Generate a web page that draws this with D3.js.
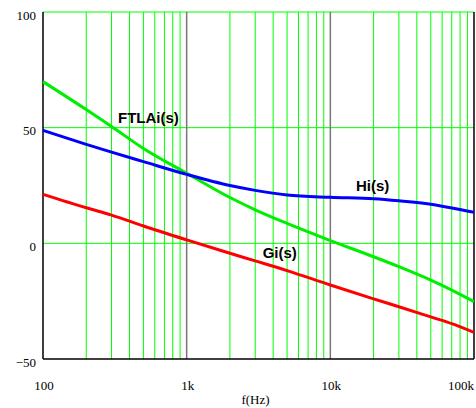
<!DOCTYPE html>
<html>
<head>
<meta charset="utf-8">
<script src="https://cdn.jsdelivr.net/npm/d3@7"></script>
<style>
  html, body { margin: 0; padding: 0; background: #fff; }
  svg { display: block; }
</style>
</head>
<body>
<div id="chart"></div>
<script>
// frequency samples (Hz)
const freqs = [100, 200, 300, 500, 1000, 2000, 3000, 5000, 10000, 20000, 30000, 50000, 70000, 100000];
const ftla = [69.9, 57.8, 50.5, 41.0, 30.3, 19.8, 14.5, 8.6, 1.2, -5.8, -10.1, -15.9, -20.2, -25.2];
const hi   = [48.8, 42.8, 39.4, 35.3, 29.8, 25.0, 22.9, 20.9, 19.9, 19.3, 18.4, 16.9, 15.3, 13.4];
const gi   = [21.2, 15.4, 12.2, 7.5, 1.5, -4.3, -7.6, -11.8, -18.0, -24.0, -27.4, -31.8, -34.7, -38.5];

const xTicks = [100, 1000, 10000, 100000];
const xTickLabels = ['100', '1k', '10k', '100k'];
const yTicks = [-50, 0, 50, 100];
const yTickLabels = ['\u221250', '0', '50', '100'];

const series = [
  { name: 'FTLAi(s)', values: ftla, color: '#00ee00', label: [333, 52] },
  { name: 'Hi(s)', values: hi, color: '#0000ff', label: [15100, 22.7] },
  { name: 'Gi(s)', values: gi, color: '#ff0000', label: [3380, -6.4] }
];

const serif = '"Liberation Serif", "Times New Roman", "DejaVu Serif", serif';
const sans = '"Liberation Sans", Arial, sans-serif';

const width = 476, height = 408;
const x = d3.scaleLog().domain([100, 100000]).range([43, 474]);
const y = d3.scaleLinear().domain([-50, 100]).range([359, 12]);

const svg = d3.select('#chart').append('svg')
  .attr('width', width).attr('height', height);

// minor log grid lines (2..9 in each decade)
const minor = [];
for (let dec = 100; dec < 100000; dec *= 10) {
  for (let k = 2; k <= 9; k++) minor.push(dec * k);
}
svg.append('g').selectAll('line').data(minor).join('line')
  .attr('x1', d => x(d)).attr('x2', d => x(d))
  .attr('y1', y(100)).attr('y2', y(-50))
  .attr('stroke', '#00ff00').attr('stroke-width', 1);

// horizontal grid
svg.append('g').selectAll('line').data([0, 50, 100]).join('line')
  .attr('x1', x(100)).attr('x2', x(100000))
  .attr('y1', d => y(d)).attr('y2', d => y(d))
  .attr('stroke', '#00ff00').attr('stroke-width', 1);

// decade lines
svg.append('g').selectAll('line').data([1000, 10000]).join('line')
  .attr('x1', d => x(d)).attr('x2', d => x(d))
  .attr('y1', y(100)).attr('y2', y(-50))
  .attr('stroke', '#777').attr('stroke-width', 1.5);

// frame: left, bottom, right in black
const frame = svg.append('g').attr('stroke', '#000').attr('stroke-width', 1.5);
frame.append('line').attr('x1', x(100)).attr('x2', x(100)).attr('y1', y(100)).attr('y2', y(-50));
frame.append('line').attr('x1', x(100)).attr('x2', x(100000)).attr('y1', y(-50)).attr('y2', y(-50));
frame.append('line').attr('x1', x(100000)).attr('x2', x(100000)).attr('y1', y(100)).attr('y2', y(-50));

// curves
const line = d3.line()
  .x((d, i) => x(freqs[i]))
  .y(d => y(d))
  .curve(d3.curveMonotoneX);

svg.append('g').selectAll('path').data(series).join('path')
  .attr('d', d => line(d.values))
  .attr('fill', 'none')
  .attr('stroke', d => d.color)
  .attr('stroke-width', 3);

svg.append('g').selectAll('text').data(series).join('text')
  .attr('x', d => x(d.label[0]))
  .attr('y', d => y(d.label[1]))
  .attr('font-family', sans).attr('font-size', 15).attr('font-weight', 'bold')
  .text(d => d.name);

// y tick labels
svg.append('g').selectAll('text').data(yTicks).join('text')
  .attr('x', 36)
  .attr('y', d => y(d) + 7.5)
  .attr('text-anchor', 'end')
  .attr('font-family', serif).attr('font-size', 13)
  .text((d, i) => yTickLabels[i]);

// x tick labels
svg.append('g').selectAll('text').data(xTicks).join('text')
  .attr('x', (d, i) => i === xTicks.length - 1 ? x(d) : x(d) + 1)
  .attr('y', 390)
  .attr('text-anchor', (d, i) => i === xTicks.length - 1 ? 'end' : 'middle')
  .attr('font-family', serif).attr('font-size', 13)
  .text((d, i) => xTickLabels[i]);

svg.append('text')
  .attr('x', (x(100) + x(100000)) / 2 - 3)
  .attr('y', 404)
  .attr('text-anchor', 'middle')
  .attr('font-family', serif).attr('font-size', 13)
  .text('f(Hz)');
</script>
</body>
</html>
